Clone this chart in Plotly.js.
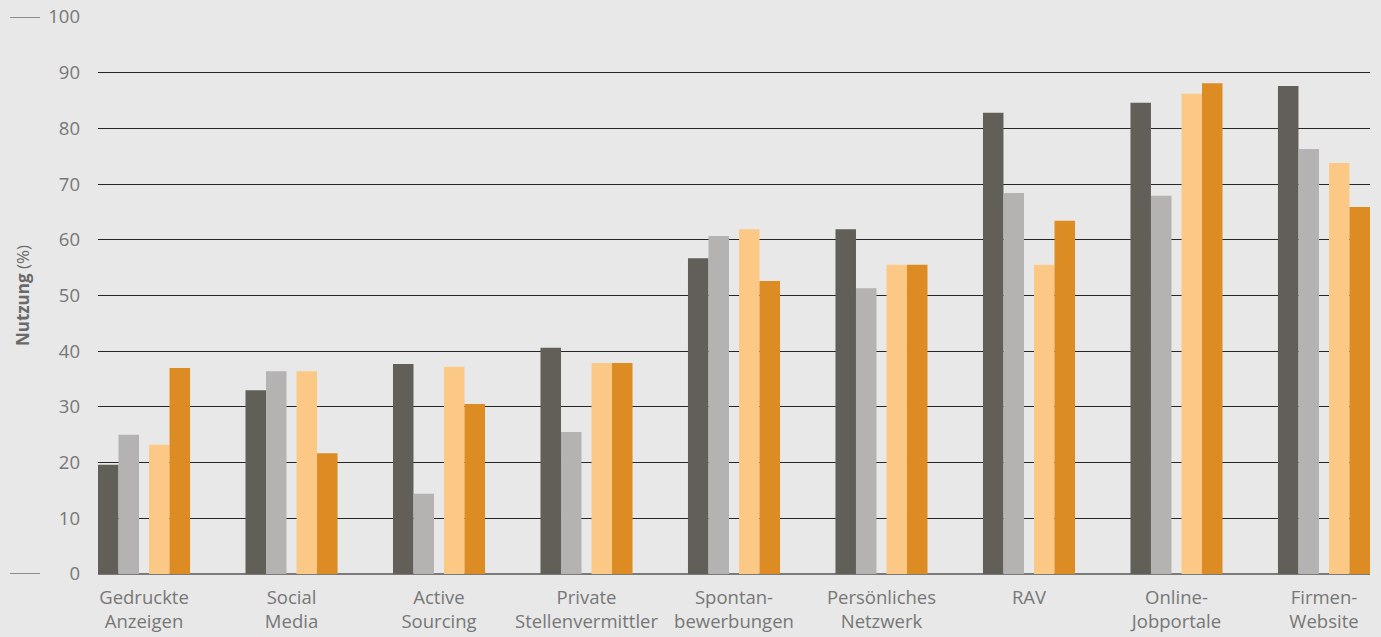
<!DOCTYPE html>
<html>
<head>
<meta charset="utf-8">
<script src="https://cdn.plot.ly/plotly-3.0.1.min.js"></script>
<style>
html,body{margin:0;padding:0;background:#e8e8e8;}
#chart{width:1381px;height:637px;}
</style>
</head>
<body>
<div id="chart"></div>
<script>
const categories = [
  "Gedruckte<br>Anzeigen",
  "Social<br>Media",
  "Active<br>Sourcing",
  "Private<br>Stellenvermittler",
  "Spontan-<br>bewerbungen",
  "Persönliches<br>Netzwerk",
  "RAV",
  "Online-<br>Jobportale",
  "Firmen-<br>Website"
];
const series1 = [19.6, 33.0, 37.7, 40.6, 56.7, 61.9, 82.8, 84.6, 87.6];
const series2 = [25.0, 36.4, 14.4, 25.5, 60.7, 51.3, 68.4, 67.9, 76.3];
const series3 = [23.2, 36.4, 37.2, 37.9, 61.9, 55.5, 55.5, 86.2, 73.8];
const series4 = [37.0, 21.7, 30.5, 37.9, 52.6, 55.5, 63.4, 88.1, 65.9];
const yTicks = [0, 10, 20, 30, 40, 50, 60, 70, 80, 90, 100];

const colors = ["#625f59", "#b4b3b1", "#fbc985", "#dc8c22"];
const offsets = [-0.312, -0.173, 0.034, 0.173];
const w = 0.139;
const all = [series1, series2, series3, series4];

const traces = all.map((s, i) => ({
  type: "bar",
  x: categories,
  y: s,
  marker: {color: colors[i], line: {width: 0}},
  offset: offsets[i],
  width: w,
  hoverinfo: "skip",
  showlegend: false
}));

const fontFam = "'Open Sans', 'Noto Sans', sans-serif";

const layout = {
  width: 1381,
  height: 637,
  paper_bgcolor: "#e8e8e8",
  plot_bgcolor: "#e8e8e8",
  margin: {l: 98, r: 11, t: 17, b: 63, pad: 0},
  barmode: "overlay",
  font: {family: fontFam, color: "#777777", size: 19},
  hovermode: false,
  xaxis: {
    type: "category",
    range: [-0.312, 8.312],
    showgrid: false,
    zeroline: false,
    showline: false,
    ticks: "",
    ticklabelstandoff: 10,
    tickfont: {family: fontFam, size: 18.5, color: "#777777"},
    fixedrange: true
  },
  yaxis: {
    range: [0, 100],
    tickvals: yTicks,
    ticktext: yTicks.map(String),
    showgrid: true,
    gridcolor: "#262626",
    gridwidth: 1,
    zeroline: true,
    zerolinecolor: "#7a7a7a",
    zerolinewidth: 2,
    showline: false,
    ticks: "",
    ticklabelstandoff: 17,
    tickfont: {family: fontFam, size: 18.5, color: "#777777"},
    title: {
      text: "<b>Nutzung</b> (%)",
      font: {family: fontFam, size: 17, color: "#6a6a6a"},
      standoff: 14
    },
    fixedrange: true
  },
  shapes: [
    {type: "line", xref: "paper", yref: "y", x0: -0.0692, x1: -0.0456, y0: 100, y1: 100, line: {color: "#6f6f6f", width: 1.5}},
    {type: "line", xref: "paper", yref: "y", x0: -0.0692, x1: -0.0456, y0: 0, y1: 0, line: {color: "#6f6f6f", width: 1.5}}
  ]
};

Plotly.newPlot("chart", traces, layout, {displayModeBar: false, staticPlot: true});
</script>
</body>
</html>
